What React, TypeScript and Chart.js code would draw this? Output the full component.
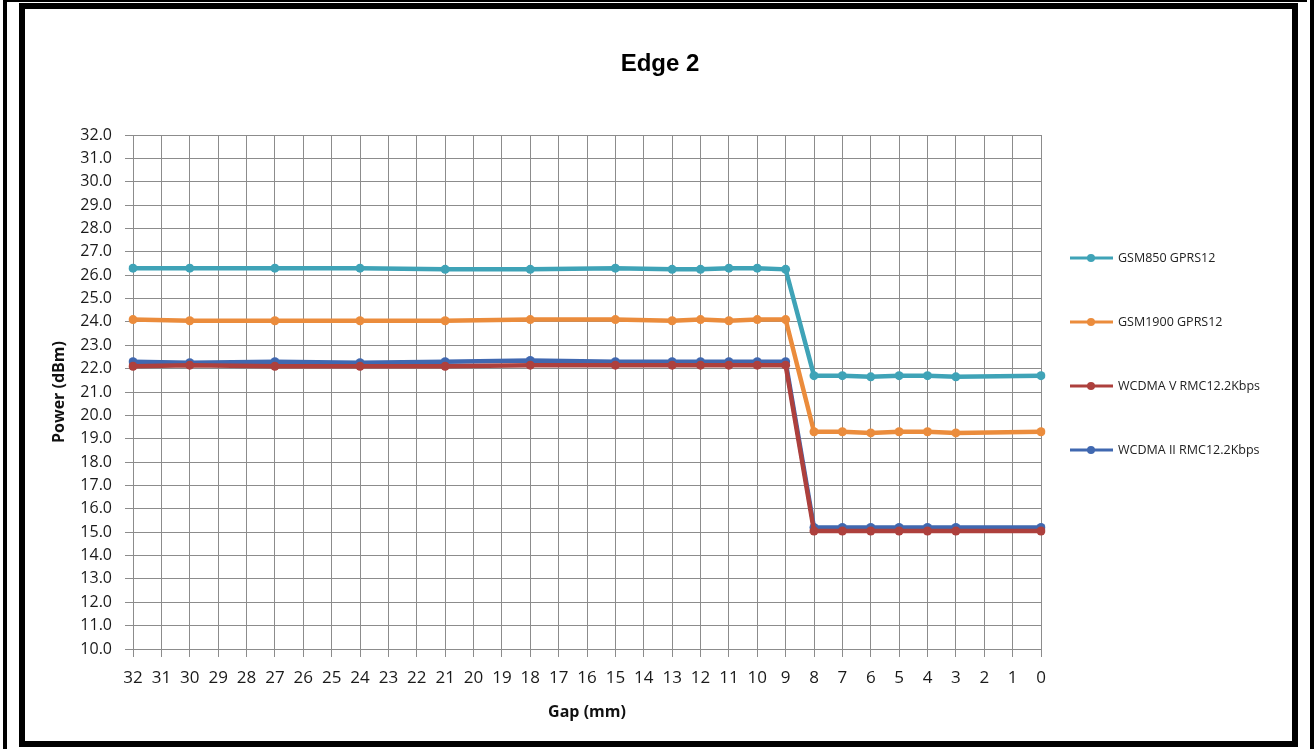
import React, { useEffect, useRef } from "react";
import { Chart, registerables } from "chart.js";

Chart.register(...registerables);

const gapLabels: string[] = [
  "32", "31", "30", "29", "28", "27", "26", "25", "24", "23", "22",
  "21", "20", "19", "18", "17", "16", "15", "14", "13", "12", "11",
  "10", "9", "8", "7", "6", "5", "4", "3", "2", "1", "0",
];

// values at gaps: 32,30,27,24,21,18,15,13,12,11,10,9,8,7,6,5,4,3,0 (null = not measured)
const gsm850: (number | null)[] = [
  26.3, null, 26.3, null, null, 26.3, null, null, 26.3, null, null,
  26.25, null, null, 26.25, null, null, 26.3, null, 26.25, 26.25, 26.3,
  26.3, 26.25, 21.7, 21.7, 21.65, 21.7, 21.7, 21.65, null, null, 21.7,
];
const gsm1900: (number | null)[] = [
  24.1, null, 24.05, null, null, 24.05, null, null, 24.05, null, null,
  24.05, null, null, 24.1, null, null, 24.1, null, 24.05, 24.1, 24.05,
  24.1, 24.1, 19.3, 19.3, 19.25, 19.3, 19.3, 19.25, null, null, 19.3,
];
const wcdmaV: (number | null)[] = [
  22.1, null, 22.15, null, null, 22.1, null, null, 22.1, null, null,
  22.1, null, null, 22.15, null, null, 22.15, null, 22.15, 22.15, 22.15,
  22.15, 22.15, 15.05, 15.05, 15.05, 15.05, 15.05, 15.05, null, null, 15.05,
];
const wcdmaII: (number | null)[] = [
  22.3, null, 22.25, null, null, 22.3, null, null, 22.25, null, null,
  22.3, null, null, 22.35, null, null, 22.3, null, 22.3, 22.3, 22.3,
  22.3, 22.3, 15.2, 15.2, 15.2, 15.2, 15.2, 15.2, null, null, 15.2,
];

const seriesNames: string[] = [
  "GSM850 GPRS12",
  "GSM1900 GPRS12",
  "WCDMA V RMC12.2Kbps",
  "WCDMA II RMC12.2Kbps",
];
const seriesColors: string[] = ["#3fa3b7", "#eb8c3c", "#ad403d", "#4068b0"];

const yMin = 10;
const yMax = 32;

const decorPlugin = {
  id: "decor",
  afterDraw(chart: any) {
    const ctx = chart.ctx;
    ctx.save();
    // title
    ctx.fillStyle = "#000";
    ctx.font = "bold 24px 'Liberation Sans', Arial, sans-serif";
    ctx.textAlign = "center";
    ctx.textBaseline = "middle";
    ctx.fillText("Edge 2", 660, 64);
    // legend
    chart.data.datasets.forEach((ds: any, i: number) => {
      const y = 258 + i * 64;
      ctx.strokeStyle = ds.borderColor;
      ctx.lineWidth = 3;
      ctx.beginPath();
      ctx.moveTo(1070, y);
      ctx.lineTo(1113, y);
      ctx.stroke();
      ctx.fillStyle = ds.borderColor;
      ctx.beginPath();
      ctx.arc(1091, y, 4, 0, Math.PI * 2);
      ctx.fill();
      ctx.fillStyle = "#222";
      ctx.font = "12.5px 'Open Sans', sans-serif";
      ctx.textAlign = "left";
      ctx.textBaseline = "middle";
      ctx.fillText(ds.label, 1118, y);
    });
    ctx.restore();
  },
};

export default function App() {
  const canvasRef = useRef<HTMLCanvasElement | null>(null);

  useEffect(() => {
    document.body.style.margin = "0";
    const canvas = canvasRef.current;
    if (!canvas) return;
    const seriesData = [gsm850, gsm1900, wcdmaV, wcdmaII];
    const chart = new Chart(canvas, {
      type: "line",
      data: {
        labels: gapLabels,
        datasets: seriesData.map((d, i) => ({
          label: seriesNames[i],
          data: d,
          borderColor: seriesColors[i],
          backgroundColor: seriesColors[i],
          pointBackgroundColor: seriesColors[i],
          pointBorderColor: seriesColors[i],
          borderWidth: 4.5,
          pointRadius: 4.5,
          pointBorderWidth: 0,
          spanGaps: true,
          tension: 0,
        })),
      },
      options: {
        animation: false,
        responsive: false,
        events: [],
        layout: { padding: { top: 135, left: 40, right: 273, bottom: 0 } },
        plugins: {
          legend: { display: false },
          title: { display: false },
          tooltip: { enabled: false },
        },
        scales: {
          x: {
            type: "category",
            offset: false,
            afterFit: (s: any) => {
              s.height = 100;
            },
            grid: { color: "#8c8c8c", tickLength: 8, lineWidth: 1 },
            border: { color: "#8c8c8c" },
            ticks: {
              autoSkip: false,
              maxRotation: 0,
              padding: 11,
              color: "#1a1a1a",
              font: { family: "'Open Sans', sans-serif", size: 17 },
            },
            title: {
              display: true,
              text: "Gap (mm)",
              color: "#111",
              font: { family: "'Open Sans', sans-serif", size: 16, weight: "bold" },
              padding: { top: 0, bottom: 27 },
            },
          },
          y: {
            min: yMin,
            max: yMax,
            afterFit: (s: any) => {
              s.width = 93;
            },
            grid: { color: "#8c8c8c", tickLength: 8, lineWidth: 1 },
            border: { color: "#8c8c8c" },
            ticks: {
              stepSize: 1,
              padding: 13,
              color: "#1a1a1a",
              font: { family: "'Open Sans', sans-serif", size: 16 },
              callback: (v: any) => Number(v).toFixed(1),
            },
            title: {
              display: true,
              text: "Power (dBm)",
              color: "#111",
              font: { family: "'Open Sans', sans-serif", size: 16, weight: "bold" },
              padding: { top: 10, bottom: 0 },
            },
          },
        },
      },
      plugins: [decorPlugin],
    });
    return () => chart.destroy();
  }, []);

  const bar = (style: React.CSSProperties): React.CSSProperties => ({
    position: "absolute",
    background: "#000",
    pointerEvents: "none",
    ...style,
  });

  return (
    <div style={{ position: "relative", width: 1314, height: 749, background: "#fff", overflow: "hidden" }}>
      <canvas ref={canvasRef} width={1314} height={749} style={{ position: "absolute", left: 0, top: 0 }} />
      <div style={bar({ left: 3, top: 0, width: 4, height: 749 })} />
      <div style={bar({ left: 7, top: 0, width: 1300, height: 2 })} />
      <div style={bar({ left: 1310, top: 0, width: 4, height: 749 })} />
      <div
        style={{
          position: "absolute",
          left: 19,
          top: 3,
          width: 1279,
          height: 744,
          boxSizing: "border-box",
          border: "6px solid #000",
          pointerEvents: "none",
        }}
      />
    </div>
  );
}
